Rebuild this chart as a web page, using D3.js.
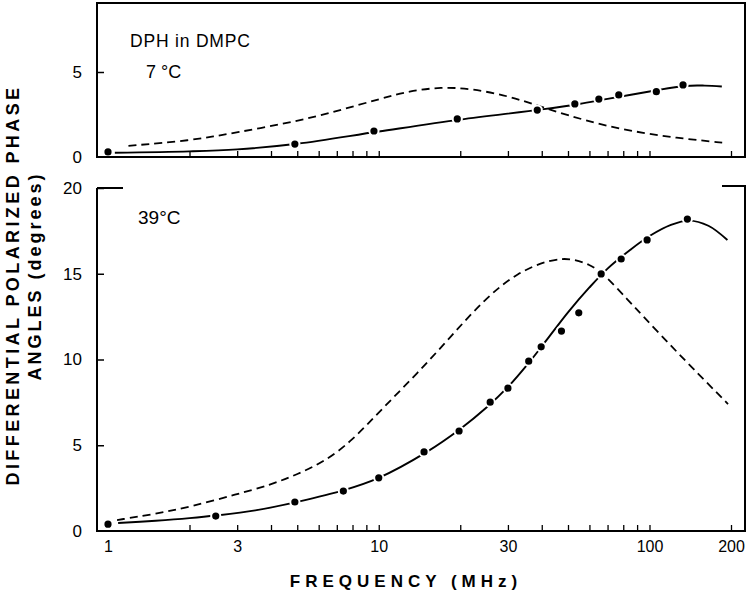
<!DOCTYPE html>
<html><head><meta charset="utf-8">
<script src="https://cdn.jsdelivr.net/npm/d3@7"></script>
<style>
html,body{margin:0;padding:0;background:#fff;}
svg text{font-family:"Liberation Sans",Arial,Helvetica,sans-serif;fill:#000;}
</style></head>
<body>
<svg id="chart" width="750" height="590"></svg>
<script>
// ---- data ----
const freqMinorTicks = [2,3,4,5,6,7,8,9,10,20,30,40,50,60,70,80,90,100,200];
const freqTickLabels = [1,3,10,30,100,200];
const topYTicks = [5];
const bottomYTicks = [5,10,15,20];
const yTickLabelsTop = [0,5];
const yTickLabelsBottom = [0,5,10,15,20];

// 7 °C measured points
const t7Freq = [1, 4.9, 9.6, 19.5, 38.5, 53, 65, 77, 106, 133];
const t7Val  = [0.3, 0.76, 1.53, 2.24, 2.76, 3.12, 3.41, 3.65, 3.84, 4.24];
// 7 °C fitted (solid) curve
const t7FitFreq = [1.06, 2, 3, 5, 10, 20, 40, 55, 70, 100, 135, 160, 185];
const t7FitVal  = [0.25, 0.33, 0.45, 0.78, 1.5, 2.2, 2.8, 3.12, 3.42, 3.85, 4.18, 4.2, 4.15];
// 7 °C dashed curve
const t7DashFreq = [1.19, 2, 3, 5, 7, 10, 13, 17, 22, 30, 39, 50, 67, 95, 133, 187];
const t7DashVal  = [0.66, 0.95, 1.45, 2.1, 2.7, 3.4, 3.88, 4.12, 4.02, 3.6, 3.0, 2.45, 1.88, 1.39, 1.08, 0.84];

// 39 °C measured points
const t39Freq = [1, 2.5, 4.9, 7.4, 10, 14.7, 19.8, 25.8, 30, 35.8, 39.8, 47.3, 54.8, 66.3, 78.6, 98, 138];
const t39Val  = [0.4, 0.87, 1.69, 2.33, 3.1, 4.61, 5.83, 7.51, 8.33, 9.9, 10.74, 11.66, 12.72, 14.99, 15.86, 16.97, 18.19];
// 39 °C fitted (solid) curve
const t39FitFreq = [1.09, 1.5, 2, 2.5, 3.5, 5, 7.5, 10, 15, 20, 25, 30, 36, 42, 50, 60, 70, 85, 100, 120, 140, 165, 194];
const t39FitVal  = [0.47, 0.6, 0.75, 0.9, 1.2, 1.7, 2.4, 3.1, 4.6, 5.95, 7.2, 8.4, 9.85, 11.2, 12.75, 14.2, 15.3, 16.4, 17.2, 17.85, 18.1, 17.8, 16.97];
// 39 °C dashed curve
const t39DashFreq = [1.08, 1.5, 2, 3, 4, 5, 6.3, 7.9, 10.4, 13.9, 18.5, 24.5, 32.6, 43.4, 51.4, 60, 67.4, 84, 95, 120, 143, 195];
const t39DashVal  = [0.64, 1.0, 1.4, 2.15, 2.7, 3.3, 4.05, 5.2, 7.2, 9.2, 11.35, 13.5, 15.1, 15.85, 15.9, 15.55, 15.04, 13.4, 12.5, 10.8, 9.56, 7.4];

// ---- layout ----
const svg = d3.select("#chart");
const X0 = 97, X1 = 745;
const x = d3.scaleLog().domain([1,200]).range([108,731]);
const yTop = d3.scaleLinear().domain([0,9]).range([157,4]);
const yBot = d3.scaleLinear().domain([0,20]).range([531,188]);

function zip(a,b){ return a.map((d,i)=>[d,b[i]]); }

function drawPanel(y, yBottom, tickVals, labelVals, fitF, fitV, dashF, dashV, ptF, ptV){
  const g = svg.append("g");
  const ax = g.append("g").attr("transform",`translate(0,${yBottom})`)
    .call(d3.axisBottom(x).tickValues(freqMinorTicks).tickSize(-6).tickFormat(""));
  ax.select(".domain").remove();
  ax.selectAll("line").attr("stroke","#000").attr("stroke-width",1.3);
  const ay = g.append("g").attr("transform",`translate(${X0},0)`)
    .call(d3.axisLeft(y).tickValues(tickVals).tickSize(-7).tickFormat(""));
  ay.select(".domain").remove();
  ay.selectAll("line").attr("stroke","#000").attr("stroke-width",1.5);
  const al = g.append("g").attr("transform",`translate(${X0},0)`)
    .call(d3.axisLeft(y).tickValues(labelVals).tickSize(0).tickPadding(15).tickFormat(d3.format("d")));
  al.select(".domain").remove();
  al.selectAll("text").attr("font-size",17).attr("fill","#000");

  const fitGen = d3.line().x(d=>x(d[0])).y(d=>y(d[1])).curve(d3.curveCatmullRom.alpha(0.5));
  const dashGen = d3.line().x(d=>x(d[0])).y(d=>y(d[1])).curve(d3.curveBasis);
  g.append("path").datum(zip(dashF,dashV)).attr("d",dashGen)
    .attr("fill","none").attr("stroke","#000").attr("stroke-width",1.8).attr("stroke-dasharray","8,5");
  g.append("path").datum(zip(fitF,fitV)).attr("d",fitGen)
    .attr("fill","none").attr("stroke","#000").attr("stroke-width",1.9);
  g.selectAll("circle.pt").data(zip(ptF,ptV)).join("circle")
    .attr("class","pt").attr("cx",d=>x(d[0])).attr("cy",d=>y(d[1])).attr("r",4.6)
    .attr("fill","#000").attr("stroke","#fff").attr("stroke-width",2);
  return g;
}

drawPanel(yTop, 157, topYTicks, yTickLabelsTop, t7FitFreq, t7FitVal, t7DashFreq, t7DashVal, t7Freq, t7Val);
svg.append("rect").attr("x",X0).attr("y",3).attr("width",X1-X0).attr("height",154)
  .attr("fill","none").attr("stroke","#000").attr("stroke-width",2);

drawPanel(yBot, 531, bottomYTicks, yTickLabelsBottom, t39FitFreq, t39FitVal, t39DashFreq, t39DashVal, t39Freq, t39Val);
svg.append("path").attr("d",`M${X0},188H123M${X0},188V531H${X1}V186H722`)
  .attr("fill","none").attr("stroke","#000").attr("stroke-width",2);

const xl = svg.append("g").attr("transform","translate(0,531)")
  .call(d3.axisBottom(x).tickValues(freqTickLabels).tickSize(0).tickPadding(10).tickFormat(d3.format("d")));
xl.select(".domain").remove();
xl.selectAll("text").attr("font-size",16).attr("fill","#000");

svg.append("text").attr("x",130).attr("y",47).attr("font-size",17.5).attr("letter-spacing",0.8).text("DPH in DMPC");
svg.append("text").attr("x",146).attr("y",78).attr("font-size",18).text("7 °C");
svg.append("text").attr("x",138).attr("y",224).attr("font-size",19).text("39°C");

svg.append("text").attr("transform","translate(406,587)").attr("text-anchor","middle")
  .attr("font-size",17).attr("letter-spacing",5).attr("font-weight","bold").text("FREQUENCY (MHz)");
svg.append("text").attr("transform","translate(19,285) rotate(-90)").attr("text-anchor","middle")
  .attr("font-size",18).attr("letter-spacing",3.4).attr("font-weight","bold").text("DIFFERENTIAL POLARIZED PHASE");
svg.append("text").attr("transform","translate(41,276) rotate(-90)").attr("text-anchor","middle")
  .attr("font-size",18).attr("letter-spacing",3).attr("font-weight","bold").text("ANGLES (degrees)");
</script>
</body></html>
